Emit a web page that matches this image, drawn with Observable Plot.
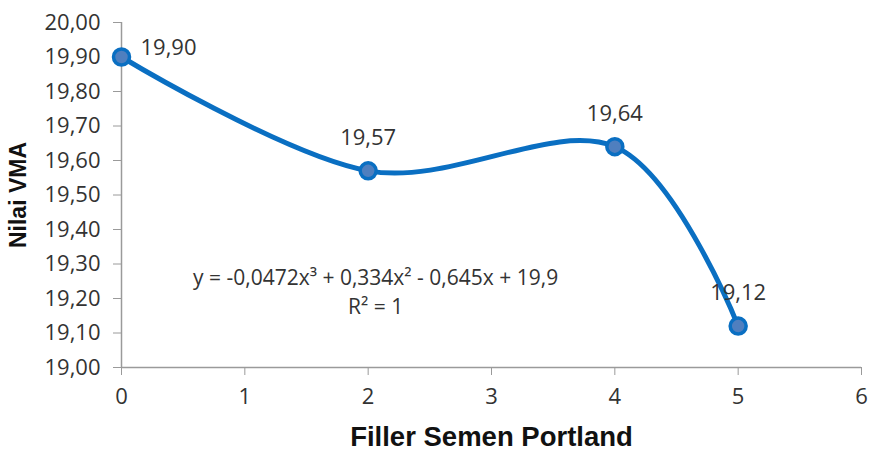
<!DOCTYPE html>
<html>
<head>
<meta charset="utf-8">
<script src="https://cdn.jsdelivr.net/npm/d3@7"></script>
<script src="https://cdn.jsdelivr.net/npm/@observablehq/plot@0.6"></script>
<style>
  html, body { margin: 0; padding: 0; background: #fff; }
  svg { display: block; }
</style>
</head>
<body>
<div id="chart"></div>
<script>
const fillerLevels = [0, 2, 4, 5];
const vmaValues = [19.90, 19.57, 19.64, 19.12];
const xTicks = [0, 1, 2, 3, 4, 5, 6];
const yTicks = [19.0, 19.1, 19.2, 19.3, 19.4, 19.5, 19.6, 19.7, 19.8, 19.9, 20.0];
const annotX = [2.06];
const annotY = [19.225];
const annotLines = ["y = -0,0472x³ + 0,334x² - 0,645x + 19,9", "R² = 1"];
const xTitle = "Filler Semen Portland";
const yTitle = "Nilai VMA";

const data = fillerLevels.map((x, i) => ({x, y: vmaValues[i], label: vmaValues[i].toFixed(2).replace(".", ",")}));
const annots = annotX.map((x, i) => ({x, y: annotY[i], t: annotLines.join("\n")}));

const fmt = d => d.toFixed(2).replace(".", ",");
const axisColor = "#9a9a9a";
const textColor = "#333333";
const font = "'Open Sans', sans-serif";
const boldFont = "'Liberation Sans', Arial, sans-serif";

const plot = Plot.plot({
  width: 870,
  height: 451,
  marginLeft: 121,
  marginRight: 9,
  marginTop: 22,
  marginBottom: 84,
  style: {fontFamily: font, color: textColor, background: "#fff"},
  x: {domain: [0, 6]},
  y: {domain: [19, 20]},
  marks: [
    Plot.axisY(yTicks, {tickSize: 8, tickPadding: 13, tickFormat: fmt, fontSize: 22, stroke: axisColor, fill: textColor, label: null}),
    Plot.axisX(xTicks, {tickSize: 8, tickPadding: 13, tickFormat: d => String(d), fontSize: 22, stroke: axisColor, fill: textColor, label: null}),
    Plot.ruleX([0], {stroke: axisColor, strokeWidth: 1.5}),
    Plot.ruleY([19], {stroke: axisColor, strokeWidth: 1.5}),
    Plot.line(data, {x: "x", y: "y", curve: "cardinal", stroke: "#0a6fc2", strokeWidth: 5}),
    Plot.dot(data, {x: "x", y: "y", r: 8, fill: "#4f7fbf", stroke: "#0a6fc2", strokeWidth: 3.5}),
    Plot.text(data.slice(0, 1), {x: "x", y: "y", text: "label", dx: 19, dy: -9, textAnchor: "start", fontSize: 22, fill: textColor}),
    Plot.text(data.slice(1), {x: "x", y: "y", text: "label", dy: -33, fontSize: 22, fill: textColor}),
    Plot.text(annots, {x: "x", y: "y", text: "t", fontSize: 21, lineHeight: 1.4, fill: textColor}),
    Plot.text([xTitle], {frameAnchor: "bottom", lineAnchor: "middle", textAnchor: "middle", dy: 70, fontSize: 27.5, fontWeight: "bold", fontFamily: boldFont, fill: "#111"}),
    Plot.text([yTitle], {frameAnchor: "left", lineAnchor: "middle", textAnchor: "middle", dx: -103, rotate: -90, fontSize: 23, fontWeight: "bold", fontFamily: boldFont, fill: "#111"})
  ]
});
document.getElementById("chart").appendChild(plot);
</script>
</body>
</html>
